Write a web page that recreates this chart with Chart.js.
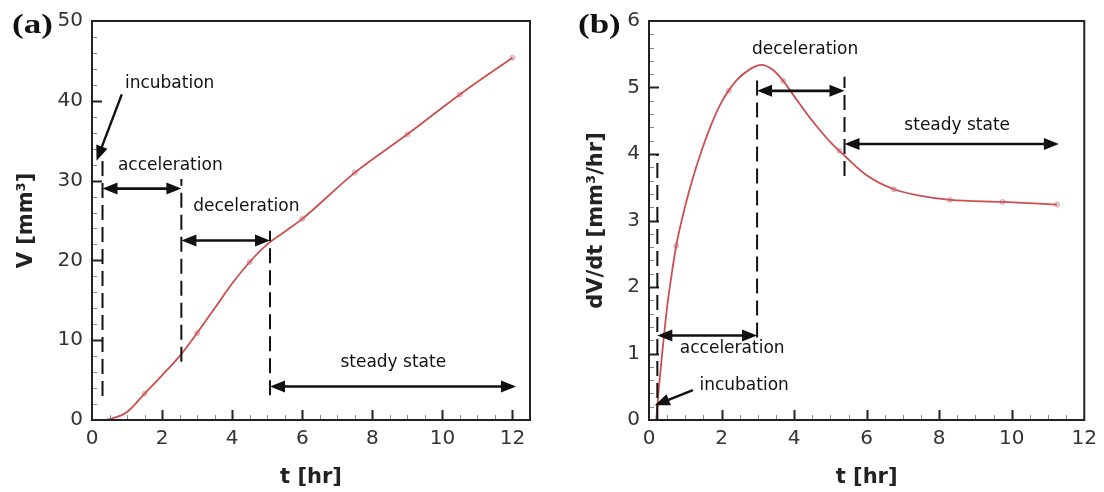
<!DOCTYPE html>
<html>
<head>
<meta charset="utf-8">
<script src="https://cdn.jsdelivr.net/npm/chart.js@4"></script>
<style>
  body { margin: 0; background: #fff; }
  #wrap { position: relative; width: 1104px; height: 492px; }
  #wrap canvas { position: absolute; top: 0; }
  #chartA { left: 0; }
  #chartB { left: 552px; }
</style>
</head>
<body>
<div id="wrap">
  <canvas id="chartA" width="552" height="492"></canvas>
  <canvas id="chartB" width="552" height="492"></canvas>
</div>
<script>
// ---- (a) volume V [mm3] vs t [hr]
const timeA = [0.35, 0.5, 1.0, 1.5, 2.0, 2.5, 3.0, 3.5, 4.0, 4.5, 5.0, 5.5, 6.0, 7.5, 9.0, 10.5, 12.0];
const volA  = [0, 0.1, 1.0, 3.3, 5.6, 8.0, 10.9, 14.0, 17.1, 19.8, 22.0, 23.6, 25.2, 31.0, 35.8, 40.8, 45.4];
const markTimeA = [1.5, 3.0, 4.5, 6.0, 7.5, 9.0, 10.5, 12.0];
const markVolA  = [3.3, 10.9, 19.8, 25.2, 31.0, 35.8, 40.8, 45.4];
const xTicksA = [0, 2, 4, 6, 8, 10, 12];
const yTicksA = [0, 10, 20, 30, 40, 50];

// ---- (b) rate dV/dt [mm3/hr] vs t [hr]
const timeB = [0.2, 0.25, 0.3, 0.4, 0.5, 0.6, 0.75, 1.0, 1.2, 1.4, 1.7, 2.0, 2.4, 2.8, 3.1, 3.4, 3.7, 4.0, 4.5, 5.0, 5.4, 6.0, 6.75, 7.5, 8.3, 9.75, 11.25];
const rateB = [0, 0.35, 0.65, 1.2, 1.7, 2.1, 2.62, 3.22, 3.62, 3.97, 4.42, 4.78, 5.1, 5.28, 5.34, 5.27, 5.1, 4.87, 4.5, 4.18, 3.97, 3.68, 3.47, 3.37, 3.31, 3.28, 3.24];
const markTimeB = [0.75, 2.2, 3.7, 5.25, 6.75, 8.3, 9.75, 11.25];
const markRateB = [2.62, 4.95, 5.1, 4.05, 3.47, 3.31, 3.28, 3.24];
const xTicksB = [0, 2, 4, 6, 8, 10, 12];
const yTicksB = [0, 1, 2, 3, 4, 5, 6];

// phase annotations, in data units
// dashed lines: [t, from, to]; double arrows: [tFrom, tTo, level]; labels: [text, t, level]
const dashA  = [[0.3, 3, 32.6], [2.55, 7.3, 30.2], [5.08, 3.1, 23.7]];
const spanA  = [[0.3, 2.55, 29], [2.55, 5.08, 22.5], [5.08, 12.1, 4.2]];
const labelA = [['incubation', 0.94, 42.1], ['acceleration', 0.74, 31.9], ['deceleration', 2.89, 26.75], ['steady state', 7.09, 7.25]];
const pointA = [0.85, 40.8, 0.13, 32.5];

const dashB  = [[0.23, 0, 4.0], [2.98, 1.24, 5.15], [5.39, 3.67, 5.16]];
const spanB  = [[0.23, 2.98, 1.27], [2.98, 5.39, 4.95], [5.39, 11.3, 4.15]];
const labelB = [['deceleration', 2.84, 5.57], ['steady state', 7.04, 4.42], ['acceleration', 0.85, 1.07], ['incubation', 1.39, 0.52]];
const pointB = [1.21, 0.45, 0.16, 0.22];

function head(ctx, x, y, ang) {
  const len = 15, w = 6;
  ctx.beginPath();
  ctx.moveTo(x, y);
  ctx.lineTo(x - len * Math.cos(ang) + w * Math.sin(ang), y - len * Math.sin(ang) - w * Math.cos(ang));
  ctx.lineTo(x - len * Math.cos(ang) - w * Math.sin(ang), y - len * Math.sin(ang) + w * Math.cos(ang));
  ctx.closePath();
  ctx.fill();
}

const framePlugin = {
  id: 'frame',
  afterDraw(chart, args, o) {
    const {ctx, chartArea: a, scales: {x, y}} = chart;
    ctx.save();
    ctx.strokeStyle = '#222';
    ctx.fillStyle = '#111';

    // inward ticks, bottom and left
    for (let i = 1; i * o.xMinor < x.max; i++) {
      const v = i * o.xMinor;
      const px = Math.round(x.getPixelForValue(v)) + 0.5;
      const major = Math.abs(v / 2 - Math.round(v / 2)) < 1e-6;
      ctx.lineWidth = major ? 2 : 1;
      ctx.strokeStyle = major ? '#222' : '#888';
      ctx.beginPath(); ctx.moveTo(px, a.bottom); ctx.lineTo(px, a.bottom - (major ? 10 : 5)); ctx.stroke();
    }
    for (let i = 1; i * o.yMinor < y.max - 1e-6; i++) {
      const v = i * o.yMinor;
      const py = Math.round(y.getPixelForValue(v)) + 0.5;
      const major = Math.abs(v / o.yMajor - Math.round(v / o.yMajor)) < 1e-6;
      ctx.lineWidth = major ? 2 : 1;
      ctx.strokeStyle = major ? '#222' : '#888';
      ctx.beginPath(); ctx.moveTo(a.left, py); ctx.lineTo(a.left + (major ? 10 : 5), py); ctx.stroke();
    }

    // box
    ctx.strokeStyle = '#222';
    ctx.lineWidth = 2;
    ctx.strokeRect(a.left, a.top, a.right - a.left, a.bottom - a.top);

    // dashed phase boundaries
    ctx.setLineDash([15, 7]);
    ctx.lineWidth = 2;
    ctx.strokeStyle = '#111';
    o.dash.forEach(d => {
      const px = x.getPixelForValue(d[0]);
      ctx.beginPath(); ctx.moveTo(px, y.getPixelForValue(d[1])); ctx.lineTo(px, y.getPixelForValue(d[2])); ctx.stroke();
    });
    ctx.setLineDash([]);

    // double arrows
    ctx.lineWidth = 2.6;
    o.span.forEach(s => {
      const x1 = x.getPixelForValue(s[0]), x2 = x.getPixelForValue(s[1]), py = y.getPixelForValue(s[2]);
      ctx.beginPath(); ctx.moveTo(x1 + 8, py); ctx.lineTo(x2 - 8, py); ctx.stroke();
      head(ctx, x1, py, Math.PI);
      head(ctx, x2, py, 0);
    });

    // pointer arrow
    const p = o.pointer;
    const sx = x.getPixelForValue(p[0]), sy = y.getPixelForValue(p[1]);
    const ex = x.getPixelForValue(p[2]), ey = y.getPixelForValue(p[3]);
    const ang = Math.atan2(ey - sy, ex - sx);
    ctx.lineWidth = 2.4;
    ctx.beginPath(); ctx.moveTo(sx, sy); ctx.lineTo(ex - 10 * Math.cos(ang), ey - 10 * Math.sin(ang)); ctx.stroke();
    head(ctx, ex, ey, ang);

    // labels
    ctx.font = '17px "DejaVu Sans"';
    ctx.textAlign = 'left';
    ctx.textBaseline = 'middle';
    o.labels.forEach(l => ctx.fillText(l[0], x.getPixelForValue(l[1]), y.getPixelForValue(l[2])));

    // panel tag
    ctx.font = 'bold 28px "Liberation Serif"';
    ctx.translate(o.tagX, 26);
    ctx.scale(1.25, 1);
    ctx.fillText(o.tag, 0, 0);
    ctx.restore();
  }
};

function makeChart(id, d) {
  const tickFont = {family: 'DejaVu Sans', size: 20};
  const titleFont = {family: 'DejaVu Sans', size: 21, weight: 'bold'};
  return new Chart(document.getElementById(id), {
    type: 'scatter',
    data: {
      datasets: [{
        data: d.t.map((t, i) => ({x: t, y: d.v[i]})),
        showLine: true,
        borderColor: '#cc4f4f',
        borderWidth: 1.8,
        pointRadius: 0,
        cubicInterpolationMode: 'monotone'
      }, {
        data: d.mt.map((t, i) => ({x: t, y: d.mv[i]})),
        showLine: false,
        pointRadius: 2.5,
        pointBackgroundColor: 'rgba(220,160,170,0.5)',
        pointBorderColor: 'rgba(190,120,130,0.5)',
        pointBorderWidth: 1
      }]
    },
    options: {
      responsive: false,
      animation: false,
      layout: {padding: {left: d.padL, right: d.padR, top: 19, bottom: 0}},
      plugins: {
        legend: {display: false},
        tooltip: {enabled: false},
        frame: d.frame
      },
      scales: {
        x: {
          type: 'linear', min: 0, max: d.xMax,
          grid: {display: false, drawTicks: false},
          border: {display: false},
          afterBuildTicks: s => { s.ticks = d.xt.map(v => ({value: v})); },
          afterFit: s => { s.height = 72; },
          ticks: {font: tickFont, color: '#333', padding: 7, maxRotation: 0},
          title: {display: true, text: 't [hr]', font: titleFont, color: '#222', padding: {top: 0, bottom: 2}}
        },
        y: {
          type: 'linear', min: 0, max: d.yMax,
          grid: {display: false, drawTicks: false},
          border: {display: false},
          afterBuildTicks: s => { s.ticks = d.yt.map(v => ({value: v})); },
          afterFit: s => { s.width = d.yW; },
          ticks: {font: tickFont, color: '#333', padding: 9},
          title: {display: true, text: d.yTitle, font: titleFont, color: '#222', padding: {top: 2, bottom: 0}}
        }
      }
    },
    plugins: [framePlugin]
  });
}

makeChart('chartA', {
  t: timeA, v: volA, mt: markTimeA, mv: markVolA, xt: xTicksA, yt: yTicksA,
  xMax: 12.5, yMax: 50, padL: 12, padR: 22, yW: 80, yTitle: 'V [mm³]',
  frame: {xMinor: 0.5, yMinor: 2, yMajor: 10, dash: dashA, span: spanA, labels: labelA, pointer: pointA, tag: '(a)', tagX: 12}
});

makeChart('chartB', {
  t: timeB, v: rateB, mt: markTimeB, mv: markRateB, xt: xTicksB, yt: yTicksB,
  xMax: 12, yMax: 6, padL: 30, padR: 15, yW: 67, yTitle: 'dV/dt [mm³/hr]',
  frame: {xMinor: 0.5, yMinor: 0.2, yMajor: 1, dash: dashB, span: spanB, labels: labelB, pointer: pointB, tag: '(b)', tagX: 26}
});
</script>
</body>
</html>
